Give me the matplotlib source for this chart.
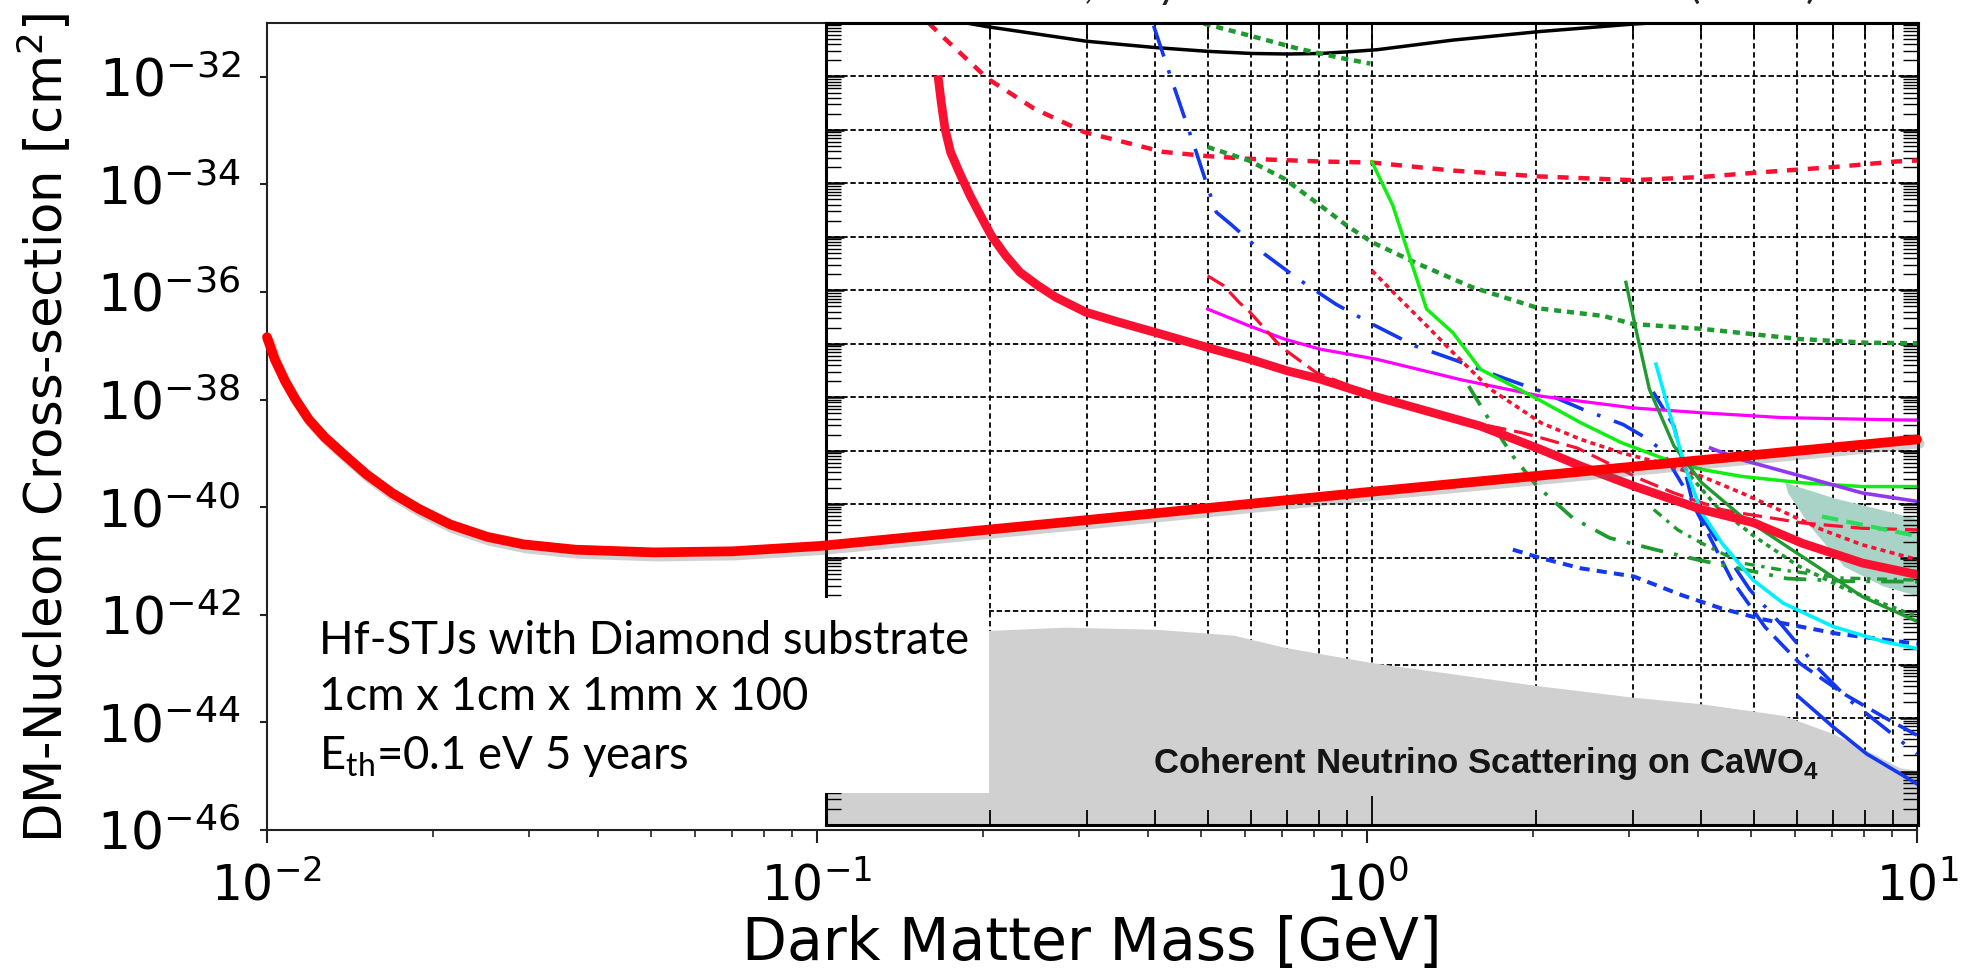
import numpy as np
import matplotlib
matplotlib.use("Agg")
import matplotlib.pyplot as plt
import matplotlib.patheffects as pe
from matplotlib.patches import Rectangle, Polygon
from matplotlib.ticker import FixedLocator, NullLocator

plt.rcParams['mathtext.fontset'] = 'dejavusans'
plt.rcParams['mathtext.rm'] = 'Lato'
plt.rcParams['mathtext.bf'] = 'Liberation Sans:bold'

# ---- projected reach (log10 mass [GeV], log10 cross-section [cm^2]) ----
stj_lx = [-2.0, -1.986, -1.967, -1.948, -1.924, -1.895, -1.857, -1.819, -1.772,
          -1.724, -1.667, -1.60, -1.534, -1.439, -1.296, -1.154, -0.994,
          -0.5, 0.0, 0.5, 1.0]
stj_ly = [-36.84, -37.25, -37.66, -38.0, -38.37, -38.70, -39.05, -39.39, -39.74,
          -40.03, -40.32, -40.55, -40.69, -40.79, -40.84, -40.82, -40.72,
          -40.23, -39.72, -39.23, -38.74]

# ---- existing limits (log10 values) ----
black_lx = [-0.743, -0.704, -0.524, -0.396, -0.301, -0.220, -0.154, -0.095, -0.046, 0.009, 0.148, 0.307, 0.478, 0.527]
black_ly = [-31.0, -31.07, -31.34, -31.46, -31.53, -31.57, -31.58, -31.57, -31.54, -31.5, -31.32, -31.16, -31.02, -30.99]

reddash_lx = [-0.812, -0.789, -0.704, -0.619, -0.527, -0.383, -0.301, -0.226, -0.095, 0.0, 0.148, 0.307, 0.478, 0.604, 0.702, 0.851, 0.960, 1.003]
reddash_ly = [-31.0, -31.23, -32.04, -32.6, -33.04, -33.41, -33.49, -33.54, -33.59, -33.61, -33.76, -33.87, -33.94, -33.88, -33.8, -33.69, -33.59, -33.57]

cresst_lx = [-0.795, -0.789, -0.782, -0.772, -0.756, -0.736, -0.717, -0.697, -0.671, -0.645, -0.612, -0.579,
             -0.524, -0.462, -0.396, -0.301, -0.223, -0.154, -0.095, 0.0, 0.199, 0.31, 0.383, 0.479,
             0.604, 0.70, 0.788, 0.898, 1.0]
cresst_ly = [-31.98, -32.48, -32.98, -33.41, -33.79, -34.23, -34.6, -34.98, -35.35, -35.66, -35.91, -36.13,
             -36.41, -36.6, -36.79, -37.07, -37.29, -37.51, -37.66, -37.97, -38.54, -38.98, -39.29, -39.66,
             -40.1, -40.35, -40.73, -41.1, -41.32]

blue_dd_lx = [-0.40, -0.373, -0.347, -0.324, -0.298, -0.285, -0.259, -0.197, -0.135, -0.066, 0.0, 0.079, 0.151, 0.238, 0.307, 0.387, 0.46, 0.50, 0.53, 0.574, 0.62, 0.692, 0.753, 0.814, 0.875, 0.937, 0.998]
blue_dd_ly = [-31.05, -31.88, -32.66, -33.35, -34.16, -34.54, -34.76, -35.32, -35.79, -36.26, -36.63, -37.04, -37.3, -37.63, -37.88, -38.23, -38.51, -38.75, -38.98, -39.73, -40.5, -41.6, -42.29, -43.04, -43.67, -44.17, -44.67]

blue_ld_lx = [0.515, 0.553, 0.588, 0.659, 0.72, 0.784, 0.863, 0.937, 0.998]
blue_ld_ly = [-37.9, -38.54, -40.0, -41.42, -42.3, -42.98, -43.54, -43.98, -44.32]

blue_solid_lx = [0.781, 0.845, 0.906, 0.967, 0.998]
blue_solid_ly = [-43.6, -44.17, -44.67, -45.04, -45.23]

blue_sd_lx = [0.258, 0.31, 0.383, 0.479, 0.567, 0.64, 0.714, 0.851, 0.998]
blue_sd_ly = [-40.85, -41.01, -41.2, -41.35, -41.7, -41.95, -42.15, -42.42, -42.61]

gdot1_lx = [-0.331, -0.226, -0.135, -0.059, -0.003]
gdot1_ly = [-30.95, -31.23, -31.48, -31.65, -31.76]

gdot2_lx = [-0.301, -0.226, -0.161, -0.095, -0.046, 0.0, 0.079, 0.183, 0.307, 0.424, 0.478, 0.604, 0.782, 0.906, 1.003]
gdot2_ly = [-33.32, -33.57, -33.91, -34.41, -34.79, -35.1, -35.48, -35.94, -36.34, -36.48, -36.63, -36.72, -36.91, -36.98, -36.99]

lime_lx = [0.0, 0.038, 0.1, 0.148, 0.199, 0.258, 0.31, 0.383, 0.457, 0.53, 0.604, 0.677, 0.788, 0.898, 1.0]
lime_ly = [-33.6, -34.41, -36.35, -36.79, -37.48, -37.79, -38.07, -38.48, -38.85, -39.13, -39.35, -39.48, -39.6, -39.67, -39.67]

magenta_lx = [-0.301, -0.226, -0.161, -0.095, 0.009, 0.162, 0.31, 0.479, 0.604, 0.751, 0.898, 1.0]
magenta_ly = [-36.35, -36.66, -36.91, -37.1, -37.29, -37.67, -37.98, -38.2, -38.29, -38.38, -38.41, -38.43]

redld_lx = [-0.301, -0.272, -0.243, -0.226, -0.177, -0.161, -0.102, -0.05, 0.05, 0.15, 0.273, 0.31, 0.376, 0.494, 0.553, 0.64, 0.677, 0.788, 0.898, 1.0]
redld_ly = [-35.73, -35.91, -36.23, -36.38, -36.94, -37.1, -37.54, -37.75, -38.1, -38.4, -38.66, -38.76, -38.95, -39.54, -39.79, -40.1, -40.17, -40.35, -40.45, -40.48]

reddot_lx = [0.0, 0.045, 0.1, 0.148, 0.217, 0.31, 0.383, 0.457, 0.53, 0.604, 0.677, 0.751, 0.825, 0.898, 1.0]
reddot_ly = [-35.63, -36.1, -36.66, -37.16, -37.85, -38.48, -38.79, -39.04, -39.23, -39.48, -39.79, -40.13, -40.48, -40.76, -41.04]

dgreen_lx = [0.465, 0.486, 0.508, 0.553, 0.604, 0.677, 0.751, 0.825, 0.898, 1.0]
dgreen_ly = [-35.85, -36.85, -37.85, -38.91, -39.6, -40.23, -40.73, -41.23, -41.73, -42.2]

dgdot_lx = [0.56, 0.631, 0.70, 0.78, 0.87, 0.998]
dgdot_ly = [-39.2, -40.04, -40.6, -41.15, -41.6, -42.1]

dgdd_lx = [0.516, 0.56, 0.604, 0.677, 0.751, 0.861, 1.0]
dgdd_ly = [-40.1, -40.48, -40.73, -41.1, -41.23, -41.38, -41.42]

dgld_lx = [0.177, 0.214, 0.258, 0.302, 0.368, 0.435, 0.519, 0.597, 0.686, 0.76, 0.87, 1.0]
dgld_ly = [-37.79, -38.41, -39.1, -39.66, -40.26, -40.63, -40.85, -41.04, -41.23, -41.39, -41.44, -41.45]

cyan_lx = [0.52, 0.545, 0.575, 0.604, 0.641, 0.698, 0.753, 0.845, 0.937, 0.998]
cyan_ly = [-37.38, -38.29, -39.35, -40.16, -40.73, -41.42, -41.85, -42.29, -42.57, -42.7]

purple_lx = [0.62, 0.677, 0.788, 0.898, 1.0]
purple_ly = [-38.95, -39.17, -39.48, -39.79, -39.95]

lgreen_lx = [0.824, 1.0]
lgreen_ly = [-40.23, -40.6]

teal_lx = [0.757, 0.85, 0.93, 1.003, 1.003, 0.937, 0.865, 0.803, 0.762]
teal_ly = [-39.6, -39.9, -40.1, -40.29, -41.73, -41.54, -41.17, -40.42, -39.79]

# neutrino floor on CaWO4
floor_lx = [-1.0, -0.701, -0.562, -0.394, -0.253, -0.159, -0.002, 0.308, 0.478, 0.601, 0.753, 0.844, 0.907, 0.967, 1.0]
floor_ly = [-42.36, -42.36, -42.30, -42.34, -42.45, -42.68, -42.96, -43.40, -43.61, -43.73, -43.95, -44.29, -44.61, -44.93, -44.98]

ytick_exp = np.arange(-46, -31, 2)
box_lines = ["Hf-STJs with Diamond substrate", "1cm x 1cm x 1mm x 100",
             r"E$_{\mathrm{th}}$=0.1 eV 5 years"]


def p(v):
    return 10.0 ** np.asarray(v)


W, H = 1977, 977
fig = plt.figure(figsize=(W / 100, H / 100), dpi=100)


def frame(l, t, r, b):
    return [l / W, 1 - b / H, (r - l) / W, (b - t) / H]


# outer axes
ax = fig.add_axes(frame(267, 23, 1917, 830), zorder=0)
ax.set_xscale('log')
ax.set_yscale('log')
ax.set_xlim(1e-2, 1e1)
ax.set_ylim(1e-46, 1e-31)
ax.yaxis.set_major_locator(FixedLocator(p(ytick_exp)))
ax.yaxis.set_minor_locator(NullLocator())
for s in ax.spines.values():
    s.set_linewidth(1.5)
    s.set_color('#222222')
ax.tick_params(axis='both', which='major', width=1.5, color='#222222')
ax.tick_params(axis='y', which='major', length=5, pad=14, labelsize=37.5)
ax.tick_params(axis='x', which='major', length=9, pad=14, labelsize=35)
ax.tick_params(axis='x', which='minor', length=5, width=1.2, color='#222222')

fig.text(45 / W, 1 - 428 / H, r'DM-Nucleon Cross-section [cm$^2$]', rotation=90,
         ha='center', va='center', fontsize=37)
fig.text(1092 / W, 1 - 960 / H, 'Dark Matter Mass [GeV]', ha='center',
         va='baseline', fontsize=42)

# inner exclusion plot
ins = fig.add_axes(frame(826, 23, 1918, 825), zorder=1)
ins.set_xscale('log')
ins.set_yscale('log')
ins.set_xlim(0.1, 10)
ins.set_ylim(1e-46, 1e-31)
xmaj = p([-1, 0, 1])
xmin = np.outer(p([-1, 0]), np.arange(2, 10)).ravel()
ymaj = p(np.arange(-46, -30))
ymin = np.outer(p(np.arange(-46, -31)), np.arange(2, 10)).ravel()
ins.xaxis.set_major_locator(FixedLocator(xmaj))
ins.xaxis.set_minor_locator(FixedLocator(xmin))
ins.yaxis.set_major_locator(FixedLocator(ymaj))
ins.yaxis.set_minor_locator(FixedLocator(ymin))
ins.tick_params(which='both', direction='in', top=True, right=True,
                labelleft=False, labelbottom=False, color='black')
ins.tick_params(axis='x', which='major', length=21, width=1.3)
ins.tick_params(axis='x', which='minor', length=11, width=1.3)
ins.tick_params(axis='y', which='major', length=13, width=1.8)
ins.tick_params(axis='y', which='minor', length=11, width=1.0)
for s in ins.spines.values():
    s.set_linewidth(2.2)

# grid drawn by hand so the neutrino floor hides it but not the ticks
ins.vlines(np.concatenate([xmin, [1.0]]), 1e-46, 1e-31, colors='black', lw=1.3,
           linestyles=[(0, (3, 2))], zorder=0.5)
ins.hlines(ymaj[1:-1], 0.1, 10, colors='black', lw=1.3,
           linestyles=[(0, (3, 1.5))], zorder=0.5)

ins.fill_between(p(floor_lx), 1e-47, p(floor_ly), color='#d0d0d0', lw=0, zorder=1)
ins.add_patch(Polygon(np.column_stack([p(teal_lx), p(teal_ly)]), closed=True,
                      facecolor='#a8d3c6', edgecolor='none', zorder=1.2))
ins.text(p(-0.401), p(-45.02), r'Coherent Neutrino Scattering on CaWO$_{\mathbf{4}}$',
         family='Liberation Sans', fontweight='bold',
         fontsize=25, color='#151515', math_fontfamily='custom',
         ha='left', va='baseline', zorder=1.5)

RED = '#fa1030'
BLUE = '#1438f0'
DGREEN = '#1f9a2e'

ins.plot(p(black_lx), p(black_ly), color='black', lw=2.5, zorder=2)
ins.plot(p(reddash_lx), p(reddash_ly), color=RED, lw=3.2, ls=(0, (2.5, 2.2)), zorder=2)
ins.plot(p(gdot1_lx), p(gdot1_ly), color=DGREEN, lw=3.2, ls=(0, (1.6, 1.3)), zorder=2)
ins.plot(p(gdot2_lx), p(gdot2_ly), color=DGREEN, lw=3.2, ls=(0, (1.6, 1.3)), zorder=2)
ins.plot(p(blue_dd_lx), p(blue_dd_ly), color=BLUE, lw=2.6, ls=(0, (9, 4, 1, 4)), zorder=2)
ins.plot(p(blue_ld_lx), p(blue_ld_ly), color=BLUE, lw=2.6, ls=(0, (6, 2.5)), zorder=2)
ins.plot(p(blue_solid_lx), p(blue_solid_ly), color=BLUE, lw=2.6, zorder=2)
ins.plot(p(blue_sd_lx), p(blue_sd_ly), color=BLUE, lw=2.9, ls=(0, (2.5, 1.8)), zorder=2)
ins.plot(p(magenta_lx), p(magenta_ly), color='#ff00ff', lw=2.3, zorder=2)
ins.plot(p(lime_lx), p(lime_ly), color='#11ee11', lw=2.5, zorder=2)
ins.plot(p(redld_lx), p(redld_ly), color=RED, lw=2.3, ls=(0, (6, 2.5)), zorder=2)
ins.plot(p(reddot_lx), p(reddot_ly), color=RED, lw=2.6, ls=(0, (1.4, 1.2)), zorder=2)
ins.plot(p(dgreen_lx), p(dgreen_ly), color=DGREEN, lw=2.4, zorder=2)
ins.plot(p(dgdot_lx), p(dgdot_ly), color=DGREEN, lw=2.6, ls=(0, (1.3, 1.3)), zorder=2)
ins.plot(p(dgdd_lx), p(dgdd_ly), color=DGREEN, lw=2.4, ls=(0, (3, 2, 1, 2)), zorder=2)
ins.plot(p(dgld_lx), p(dgld_ly), color=DGREEN, lw=2.7, ls=(0, (6, 3, 1, 3)), zorder=2)
ins.plot(p(cyan_lx), p(cyan_ly), color='#00f0ff', lw=2.6, zorder=2)
ins.plot(p(purple_lx), p(purple_ly), color='#9038f0', lw=2.6, zorder=2)
ins.plot(p(lgreen_lx), p(lgreen_ly), color='#2bdc5a', lw=3.0, ls=(0, (4, 2)), zorder=2)
ins.plot(p(cresst_lx), p(cresst_ly), color=RED, lw=6.3, solid_capstyle='butt',
         solid_joinstyle='round', zorder=2.2)

# overlay for the projected sensitivity and the detector box
top = fig.add_axes(frame(267, 23, 1917, 830), zorder=2)
top.set_xscale('log')
top.set_yscale('log')
top.set_xlim(1e-2, 1e1)
top.set_ylim(1e-46, 1e-31)
top.axis('off')
top.patch.set_visible(False)
top.add_patch(Rectangle((0.05, p(-45.31)), 0.2056 - 0.05, p(-41.69) - p(-45.31),
                        facecolor='white', edgecolor='none', zorder=1))
top.plot(p(stj_lx), p(stj_ly), color='#ff0000', lw=7, solid_capstyle='round',
         solid_joinstyle='round', clip_on=False, zorder=3,
         path_effects=[pe.SimpleLineShadow(offset=(2, -3), shadow_color='#666666', alpha=0.3),
                       pe.Normal()])

for txt, yb in zip(box_lines, [654, 710, 769]):
    fig.text(319 / W, 1 - yb / H, txt, family='Lato', fontsize=32.8,
             math_fontfamily='custom', ha='left', va='baseline', color='black')

# bottoms of the caption line above the plot
for txt, xl in zip([', July', '(', ')'], [1084, 1688, 1806]):
    fig.text(xl / W, 1 + 2 / H, txt, family='Lato', fontsize=31,
             ha='left', va='baseline', color='#222222')

fig.savefig('out.png', dpi=100)
